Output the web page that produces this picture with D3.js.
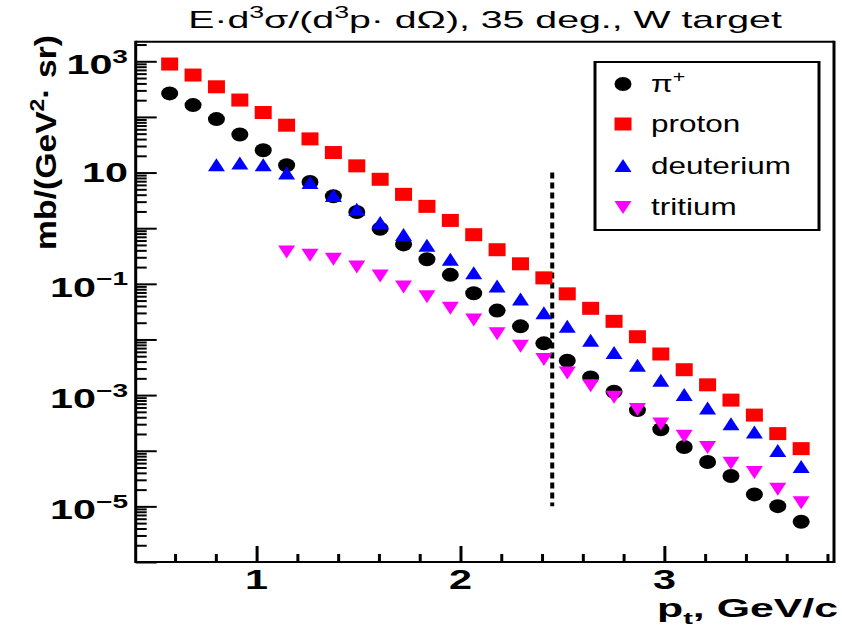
<!DOCTYPE html>
<html><head><meta charset="utf-8">
<script src="https://cdn.jsdelivr.net/npm/d3@7"></script>
<style>body{margin:0;background:#fff} svg text{font-family:"Liberation Sans",Arial,Helvetica,sans-serif}</style>
</head><body>
<svg id="c" width="842" height="642"></svg>
<script>
// ---------------- data ----------------
const ptAll = [0.5736,0.6883,0.8030,0.9177,1.0324,1.1472,1.2619,1.3766,1.4913,1.6060,1.7207,1.8354,1.9502,2.0649,2.1796,2.2943,2.4090,2.5237,2.6384,2.7532,2.8679,2.9826,3.0973,3.2120,3.3267,3.4415,3.5562,3.6709];
const piPlus = [265,163,91.4,48.4,25.2,13.5,6.77,3.74,1.95,0.98,0.511,0.277,0.145,0.0677,0.0330,0.0172,0.00851,0.00415,0.00207,0.00115,5.37e-4,2.44e-4,1.17e-4,6.28e-5,3.52e-5,1.64e-5,1.01e-5,5.28e-6];
const proton = [893,566,348,201,120,71,40.3,22.9,13.2,7.57,4.06,2.47,1.38,0.764,0.410,0.229,0.128,0.0661,0.0363,0.0212,0.0112,0.00548,0.00286,0.00153,8.13e-4,4.37e-4,2.03e-4,1.09e-4];
const deuteriumPt = ptAll.slice(2);
const deuterium = [13.5,14.5,13.5,9.6,6.5,3.79,2.15,1.24,0.751,0.484,0.271,0.155,0.0894,0.0521,0.0295,0.0170,0.00951,0.00571,0.00337,0.00181,1.00e-3,5.74e-4,3.00e-4,2.12e-4,9.9e-5,5.1e-5];
const tritiumPt = ptAll.slice(5);
const tritium = [0.382,0.333,0.282,0.205,0.141,0.0894,0.0598,0.0370,0.0228,0.0129,0.00773,0.00446,0.00255,0.00151,9.31e-4,5.60e-4,3.08e-4,1.85e-4,1.17e-4,6.1e-5,4.15e-5,2.07e-5,1.19e-5];
const seriesNames = ["π+","proton","deuterium","tritium"];
const xTickValues = [1,2,3];
const yLabelExponents = [3,1,-1,-3,-5];
const cutPt = 2.45;
const cutRange = [1e-5, 10];

// ---------------- setup ----------------
const svg = d3.select("#c");
const L = 135.7, R = 834, T = 41.7, B = 562;
const x = d3.scaleLinear().domain([0.407, 3.832]).range([L, R]);
const y = d3.scaleLog().domain([1e-6, 2250]).range([B, T]);

function addText(parent, o) {
  const g = parent.append("g");
  const t = g.append("text").attr("font-size", o.size).attr("font-weight", o.weight || "normal")
    .attr("text-anchor", o.anchor || "start").attr("fill", "#000");
  let cur = 0;
  o.parts.forEach(p => {
    const ts = t.append("tspan").text(p.t);
    let off = 0;
    if (p.sup) { ts.attr("font-size", o.size * 0.68); off = -o.size * 0.42; }
    if (p.sub) { ts.attr("font-size", o.size * 0.68); off = o.size * 0.28; }
    if (off !== cur) ts.attr("dy", off - cur);
    cur = off;
  });
  const w = t.node().getComputedTextLength();
  const k = o.fit ? o.fit / w : (o.k || 1);
  g.attr("transform", `translate(${o.x},${o.y})` + (o.rotate ? ` rotate(${o.rotate})` : "") + ` scale(${k},1)`);
  return k;
}

// frame
const frame = svg.append("g").attr("stroke", "#000").attr("fill", "none");
frame.append("line").attr("x1", L).attr("x2", R).attr("y1", T).attr("y2", T).attr("stroke-width", 2);
frame.append("line").attr("x1", L).attr("x2", R).attr("y1", B).attr("y2", B).attr("stroke-width", 2);
frame.append("line").attr("x1", L).attr("x2", L).attr("y1", T - 1).attr("y2", B + 1).attr("stroke-width", 3);
frame.append("line").attr("x1", R).attr("x2", R).attr("y1", T - 1).attr("y2", B + 1).attr("stroke-width", 3);

// y ticks (log)
const yMajor = [], yMinor = [];
for (let e = -6; e <= 3; e++) {
  yMajor.push(Math.pow(10, e));
  for (let m = 2; m <= 9; m++) { const v = m * Math.pow(10, e); if (v <= 2250) yMinor.push(v); }
}
const yAxisMajor = d3.axisRight(y).tickValues(yMajor).tickSize(21).tickFormat("");
const yAxisMinor = d3.axisRight(y).tickValues(yMinor).tickSize(11).tickFormat("");
[yAxisMajor, yAxisMinor].forEach(ax => {
  const g = svg.append("g").attr("transform", `translate(${L},0)`).call(ax);
  g.select(".domain").remove();
  g.selectAll("line").attr("stroke", "#000").attr("stroke-width", 2);
});

// x ticks
const xMinor = d3.range(6, 39, 2).map(v => v / 10).filter(v => ![1, 2, 3].includes(v));
const xAxisMajor = d3.axisTop(x).tickValues(xTickValues).tickSize(16).tickFormat("");
const xAxisMinor = d3.axisTop(x).tickValues(xMinor).tickSize(8).tickFormat("");
[xAxisMajor, xAxisMinor].forEach(ax => {
  const g = svg.append("g").attr("transform", `translate(0,${B})`).call(ax);
  g.select(".domain").remove();
  g.selectAll("line").attr("stroke", "#000").attr("stroke-width", 3);
});

// y tick labels
const kLab = addText(svg, { x: 128, y: y(10) + 9, anchor: "end", size: 27, weight: "bold", parts: [{ t: "10" }], fit: 46 });
yLabelExponents.filter(e => e !== 1).forEach(e => {
  addText(svg, { x: 128, y: y(Math.pow(10, e)) + 13, anchor: "end", size: 27, weight: "bold",
    parts: [{ t: "10" }, { t: (e < 0 ? "\u2212" + (-e) : "" + e), sup: true }], k: kLab });
});
// x tick labels
xTickValues.forEach(v => addText(svg, { x: x(v), y: 589, anchor: "middle", size: 27, weight: "bold", parts: [{ t: String(v) }], k: kLab }));

// axis titles
addText(svg, { x: 838, y: 617, anchor: "end", size: 25, weight: "bold", parts: [{ t: "p" }, { t: "t", sub: true }, { t: ", GeV/c" }], fit: 181 });
addText(svg, { x: 56, y: 35, anchor: "end", size: 29, weight: "bold", rotate: -90,
  parts: [{ t: "mb/(GeV" }, { t: "2", sup: true }, { t: "\u00b7 sr)" }], fit: 215 });
// title
addText(svg, { x: 485, y: 28, anchor: "middle", size: 23,
  parts: [{ t: "E\u00b7d" }, { t: "3", sup: true }, { t: "\u03c3/(d" }, { t: "3", sup: true }, { t: "p\u00b7 d\u03a9), 35 deg., W target" }], fit: 594 });

// dotted cut line
svg.append("line").attr("x1", x(cutPt)).attr("x2", x(cutPt)).attr("y1", y(cutRange[1])).attr("y2", y(cutRange[0]))
  .attr("stroke", "#000").attr("stroke-width", 4).attr("stroke-dasharray", "6,4");

// markers
const MW = 17, MH = 13;
function drawMarker(g, kind, cx, cy, color) {
  if (kind === "circle") g.append("ellipse").attr("cx", cx).attr("cy", cy).attr("rx", MW / 2).attr("ry", MH / 2 + 0.5).attr("fill", color);
  else if (kind === "square") g.append("rect").attr("x", cx - MW / 2).attr("y", cy - MH / 2).attr("width", MW).attr("height", MH).attr("fill", color);
  else if (kind === "up") g.append("path").attr("d", `M${cx - MW / 2},${cy + MH / 2 - 0.5}L${cx + MW / 2},${cy + MH / 2 - 0.5}L${cx},${cy - MH / 2 - 0.5}Z`).attr("fill", color);
  else g.append("path").attr("d", `M${cx - MW / 2},${cy - MH / 2 + 0.5}L${cx + MW / 2},${cy - MH / 2 + 0.5}L${cx},${cy + MH / 2 + 0.5}Z`).attr("fill", color);
}
const series = [
  { name: seriesNames[0], pt: ptAll, v: piPlus, kind: "circle", color: "#000000" },
  { name: seriesNames[1], pt: ptAll, v: proton, kind: "square", color: "#ff0000" },
  { name: seriesNames[2], pt: deuteriumPt, v: deuterium, kind: "up", color: "#0000ff" },
  { name: seriesNames[3], pt: tritiumPt, v: tritium, kind: "down", color: "#ff00ff" }
];
series.forEach(s => {
  const g = svg.append("g");
  s.v.forEach((v, i) => drawMarker(g, s.kind, x(s.pt[i]), y(v), s.color));
});

// legend
const lg = svg.append("g");
lg.append("rect").attr("x", 595).attr("y", 62).attr("width", 224).attr("height", 168).attr("fill", "#fff");
lg.append("line").attr("x1", 595).attr("x2", 819).attr("y1", 62).attr("y2", 62).attr("stroke", "#000").attr("stroke-width", 2);
lg.append("line").attr("x1", 595).attr("x2", 819).attr("y1", 230).attr("y2", 230).attr("stroke", "#000").attr("stroke-width", 2);
lg.append("line").attr("x1", 595).attr("x2", 595).attr("y1", 61).attr("y2", 231).attr("stroke", "#000").attr("stroke-width", 3);
lg.append("line").attr("x1", 819).attr("x2", 819).attr("y1", 61).attr("y2", 231).attr("stroke", "#000").attr("stroke-width", 3);
const rowsY = [84, 124, 166, 207];
const kLeg = addText(lg, { x: 651, y: rowsY[2] + 8, size: 23, parts: [{ t: "deuterium" }], fit: 140 });
series.forEach((s, i) => {
  drawMarker(lg, s.kind, 623, rowsY[i], s.color);
  if (i === 2) return;
  const parts = i === 0 ? [{ t: "\u03c0" }, { t: "+", sup: true }] : [{ t: s.name }];
  addText(lg, { x: 651, y: rowsY[i] + 8, size: 23, parts, k: kLeg });
});
</script>
</body></html>
